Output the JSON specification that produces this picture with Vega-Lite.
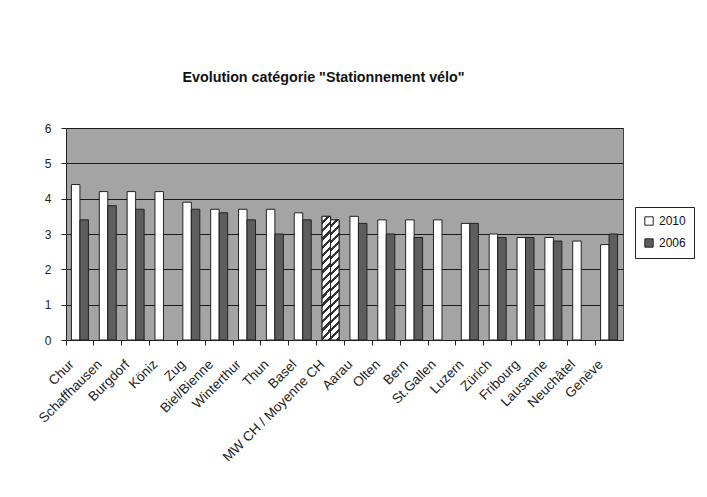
{
  "$schema": "https://vega.github.io/schema/vega-lite/v6.json",
  "autosize": {"type": "none"},
  "width": 557,
  "height": 212,
  "padding": {"left": 66, "top": 128, "right": 84, "bottom": 157},
  "background": "#ffffff",
  "title": {
    "text": "Evolution catégorie \"Stationnement vélo\"",
    "font": "Liberation Sans",
    "fontSize": 14.3,
    "fontWeight": "bold",
    "color": "#111111",
    "anchor": "middle",
    "frame": "group",
    "baseline": "alphabetic",
    "offset": 26,
    "dx": -21
  },
  "data": {
    "values": [
      {"city": "Chur", "year": "2010", "value": 4.4},
      {"city": "Chur", "year": "2006", "value": 3.4},
      {"city": "Schaffhausen", "year": "2010", "value": 4.2},
      {"city": "Schaffhausen", "year": "2006", "value": 3.8},
      {"city": "Burgdorf", "year": "2010", "value": 4.2},
      {"city": "Burgdorf", "year": "2006", "value": 3.7},
      {"city": "Köniz", "year": "2010", "value": 4.2},
      {"city": "Zug", "year": "2010", "value": 3.9},
      {"city": "Zug", "year": "2006", "value": 3.7},
      {"city": "Biel/Bienne", "year": "2010", "value": 3.7},
      {"city": "Biel/Bienne", "year": "2006", "value": 3.6},
      {"city": "Winterthur", "year": "2010", "value": 3.7},
      {"city": "Winterthur", "year": "2006", "value": 3.4},
      {"city": "Thun", "year": "2010", "value": 3.7},
      {"city": "Thun", "year": "2006", "value": 3.0},
      {"city": "Basel", "year": "2010", "value": 3.6},
      {"city": "Basel", "year": "2006", "value": 3.4},
      {"city": "MW CH / Moyenne CH", "year": "2010", "value": 3.5},
      {"city": "MW CH / Moyenne CH", "year": "2006", "value": 3.4},
      {"city": "Aarau", "year": "2010", "value": 3.5},
      {"city": "Aarau", "year": "2006", "value": 3.3},
      {"city": "Olten", "year": "2010", "value": 3.4},
      {"city": "Olten", "year": "2006", "value": 3.0},
      {"city": "Bern", "year": "2010", "value": 3.4},
      {"city": "Bern", "year": "2006", "value": 2.9},
      {"city": "St.Gallen", "year": "2010", "value": 3.4},
      {"city": "Luzern", "year": "2010", "value": 3.3},
      {"city": "Luzern", "year": "2006", "value": 3.3},
      {"city": "Zürich", "year": "2010", "value": 3.0},
      {"city": "Zürich", "year": "2006", "value": 2.9},
      {"city": "Fribourg", "year": "2010", "value": 2.9},
      {"city": "Fribourg", "year": "2006", "value": 2.9},
      {"city": "Lausanne", "year": "2010", "value": 2.9},
      {"city": "Lausanne", "year": "2006", "value": 2.8},
      {"city": "Neuchâtel", "year": "2010", "value": 2.8},
      {"city": "Genève", "year": "2010", "value": 2.7},
      {"city": "Genève", "year": "2006", "value": 3.0}
    ]
  },
  "encoding": {
    "x": {
      "field": "city",
      "type": "nominal",
      "sort": null,
      "scale": {"paddingInner": 0, "paddingOuter": 0},
      "axis": {
        "title": null,
        "bandPosition": 0,
        "labelOffset": -13,
        "labelAngle": -45,
        "labelFont": "Liberation Sans",
        "labelFontSize": 13.5,
        "labelColor": "#222222",
        "labelPadding": 12,
        "tickColor": "#222222",
        "tickSize": 5,
        "domainColor": "#222222",
        "grid": false
      }
    },
    "xOffset": {
      "field": "year",
      "type": "nominal",
      "scale": {"domain": ["2010", "2006"], "paddingInner": 0, "paddingOuter": 0.64}
    },
    "y": {
      "field": "value",
      "type": "quantitative",
      "scale": {"domain": [0, 6], "nice": false},
      "axis": {
        "title": null,
        "values": [0, 1, 2, 3, 4, 5, 6],
        "grid": true,
        "gridColor": "#1a1a1a",
        "gridOpacity": 1,
        "labelFont": "Liberation Sans",
        "labelFontSize": 12,
        "labelColor": "#222222",
        "labelPadding": 10,
        "tickColor": "#222222",
        "tickSize": 5,
        "domainColor": "#222222"
      }
    }
  },
  "layer": [
    {
      "mark": {"type": "bar", "stroke": "#222222", "strokeWidth": 1},
      "encoding": {
        "fill": {
          "field": "year",
          "type": "nominal",
          "scale": {"domain": ["2010", "2006"], "range": ["#ffffff", "#5e5e5e"]},
          "legend": {
            "title": null,
            "orient": "none",
            "legendX": 569,
            "legendY": 79,
            "strokeColor": "#222222",
            "fillColor": "#ffffff",
            "padding": 8,
            "rowPadding": 8,
            "symbolType": "square",
            "symbolSize": 70,
            "symbolStrokeColor": "#222222",
            "symbolStrokeWidth": 1,
            "labelFont": "Liberation Sans",
            "labelFontSize": 12,
            "labelColor": "#111111"
          }
        }
      }
    },
    {
      "transform": [{"filter": "datum.city === 'MW CH / Moyenne CH'"}],
      "mark": {
        "type": "bar",
        "stroke": "#222222",
        "strokeWidth": 1,
        "fill": {
          "gradient": "linear",
          "x1": 0, "y1": 0, "x2": 0.0739, "y2": 1.064,
          "stops": [
            {"offset": 0, "color": "#ffffff"}, {"offset": 0.0375, "color": "#ffffff"}, {"offset": 0.0375, "color": "#333333"}, {"offset": 0.0625, "color": "#333333"},
            {"offset": 0.0625, "color": "#ffffff"}, {"offset": 0.1, "color": "#ffffff"}, {"offset": 0.1, "color": "#333333"}, {"offset": 0.125, "color": "#333333"},
            {"offset": 0.125, "color": "#ffffff"}, {"offset": 0.1625, "color": "#ffffff"}, {"offset": 0.1625, "color": "#333333"}, {"offset": 0.1875, "color": "#333333"},
            {"offset": 0.1875, "color": "#ffffff"}, {"offset": 0.225, "color": "#ffffff"}, {"offset": 0.225, "color": "#333333"}, {"offset": 0.25, "color": "#333333"},
            {"offset": 0.25, "color": "#ffffff"}, {"offset": 0.2875, "color": "#ffffff"}, {"offset": 0.2875, "color": "#333333"}, {"offset": 0.3125, "color": "#333333"},
            {"offset": 0.3125, "color": "#ffffff"}, {"offset": 0.35, "color": "#ffffff"}, {"offset": 0.35, "color": "#333333"}, {"offset": 0.375, "color": "#333333"},
            {"offset": 0.375, "color": "#ffffff"}, {"offset": 0.4125, "color": "#ffffff"}, {"offset": 0.4125, "color": "#333333"}, {"offset": 0.4375, "color": "#333333"},
            {"offset": 0.4375, "color": "#ffffff"}, {"offset": 0.475, "color": "#ffffff"}, {"offset": 0.475, "color": "#333333"}, {"offset": 0.5, "color": "#333333"},
            {"offset": 0.5, "color": "#ffffff"}, {"offset": 0.5375, "color": "#ffffff"}, {"offset": 0.5375, "color": "#333333"}, {"offset": 0.5625, "color": "#333333"},
            {"offset": 0.5625, "color": "#ffffff"}, {"offset": 0.6, "color": "#ffffff"}, {"offset": 0.6, "color": "#333333"}, {"offset": 0.625, "color": "#333333"},
            {"offset": 0.625, "color": "#ffffff"}, {"offset": 0.6625, "color": "#ffffff"}, {"offset": 0.6625, "color": "#333333"}, {"offset": 0.6875, "color": "#333333"},
            {"offset": 0.6875, "color": "#ffffff"}, {"offset": 0.725, "color": "#ffffff"}, {"offset": 0.725, "color": "#333333"}, {"offset": 0.75, "color": "#333333"},
            {"offset": 0.75, "color": "#ffffff"}, {"offset": 0.7875, "color": "#ffffff"}, {"offset": 0.7875, "color": "#333333"}, {"offset": 0.8125, "color": "#333333"},
            {"offset": 0.8125, "color": "#ffffff"}, {"offset": 0.85, "color": "#ffffff"}, {"offset": 0.85, "color": "#333333"}, {"offset": 0.875, "color": "#333333"},
            {"offset": 0.875, "color": "#ffffff"}, {"offset": 0.9125, "color": "#ffffff"}, {"offset": 0.9125, "color": "#333333"}, {"offset": 0.9375, "color": "#333333"},
            {"offset": 0.9375, "color": "#ffffff"}, {"offset": 0.975, "color": "#ffffff"}, {"offset": 0.975, "color": "#333333"}, {"offset": 1, "color": "#333333"}
          ]
        }
      }
    }
  ],
  "config": {
    "view": {"fill": "#a4a4a4", "stroke": "#444444", "strokeWidth": 1}
  }
}
